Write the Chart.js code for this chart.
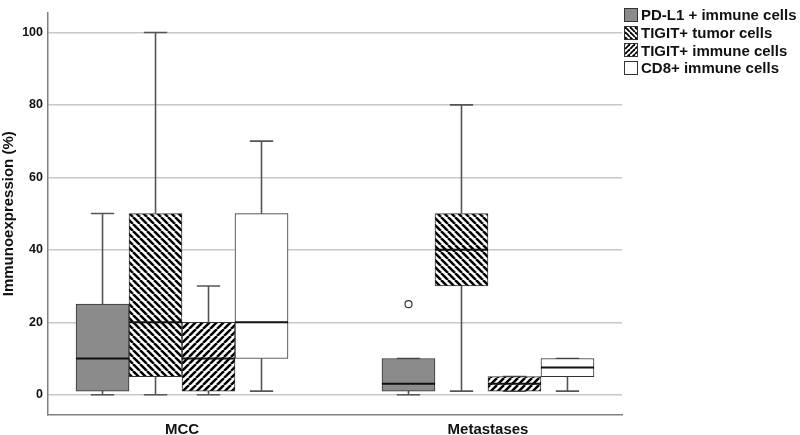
<!DOCTYPE html>
<html>
<head>
<meta charset="utf-8">
<script src="https://cdn.jsdelivr.net/npm/chart.js@4.4.1/dist/chart.umd.min.js"></script>
<style>
  body { margin: 0; background: #fff; }
  .chart-wrap { position: relative; width: 800px; height: 435px; }
  .chart-legend { position: absolute; left: 624px; top: 6px; font: bold 15px 'Liberation Sans', Arial, sans-serif; color: #111; }
  .legend-item { display: flex; align-items: center; height: 17.7px; white-space: nowrap; }
  .legend-item canvas { width: 14px; height: 14px; margin-right: 3px; box-sizing: border-box; border: 1px solid #333; }
</style>
</head>
<body>
<div class="chart-wrap">
  <canvas id="chart"></canvas>
  <div class="chart-legend" id="legend"></div>
</div>
<script>
const categories = ['MCC', 'Metastases'];
const seriesNames = ['PD-L1 + immune cells', 'TIGIT+ tumor cells', 'TIGIT+ immune cells', 'CD8+ immune cells'];
// [min, q1, median, q3, max] for MCC, Metastases
const pdl1Stats = [[0, 1, 10, 25, 50], [0, 1, 3, 10, 10]];
const tigitTumorStats = [[0, 5, 20, 50, 100], [1, 30, 40, 50, 80]];
const tigitImmuneStats = [[0, 1, 10, 20, 30], [1, 1, 3, 5, 5]];
const cd8Stats = [[1, 10, 20, 50, 70], [1, 5, 7.5, 10, 10]];
const pdl1Outliers = [[], [25]];
const yTicks = [0, 20, 40, 60, 80, 100];

const allStats = [pdl1Stats, tigitTumorStats, tigitImmuneStats, cd8Stats];
const BOX = 0.1732;          // box width in category units
const GRID = '#c8c8c8';
const AXIS = '#808080';
const FONT = "'Liberation Sans', Arial, sans-serif";

function makePattern(kind, p, lw) {
  const c = document.createElement('canvas');
  c.width = p; c.height = p;
  const g = c.getContext('2d');
  g.fillStyle = '#fff'; g.fillRect(0, 0, p, p);
  g.strokeStyle = '#000'; g.lineWidth = lw;
  for (let k = -1; k <= 1; k++) {
    g.beginPath();
    if (kind === 'back') { g.moveTo(k * p, 0); g.lineTo(k * p + p, p); }
    else { g.moveTo(k * p, p); g.lineTo(k * p + p, 0); }
    g.stroke();
  }
  return c;
}

function fillFor(s, ctx, p = 7, lw = 2.5) {
  if (s === 0) return '#8c8b8c';
  if (s === 1) return ctx.createPattern(makePattern('back', p, lw), 'repeat');
  if (s === 2) return ctx.createPattern(makePattern('fwd', p, lw), 'repeat');
  return '#ffffff';
}

const xOf = (i, s) => i + (s - 1.5) * BOX;

const boxPlugin = {
  id: 'boxparts',
  beforeDatasetsDraw(chart) {
    const { ctx, scales: { y } } = chart;
    ctx.save();
    ctx.strokeStyle = '#555'; ctx.lineWidth = 1.6;
    allStats.forEach((stats, s) => {
      chart.getDatasetMeta(s).data.forEach((el, i) => {
        const [mn, q1, , q3, mx] = stats[i];
        const cap = el.width * 0.22;
        ctx.beginPath();
        ctx.moveTo(el.x, y.getPixelForValue(q3)); ctx.lineTo(el.x, y.getPixelForValue(mx));
        ctx.moveTo(el.x, y.getPixelForValue(q1)); ctx.lineTo(el.x, y.getPixelForValue(mn));
        ctx.moveTo(el.x - cap, y.getPixelForValue(mx)); ctx.lineTo(el.x + cap, y.getPixelForValue(mx));
        ctx.moveTo(el.x - cap, y.getPixelForValue(mn)); ctx.lineTo(el.x + cap, y.getPixelForValue(mn));
        ctx.stroke();
      });
    });
    ctx.restore();
  },
  afterDatasetsDraw(chart) {
    const { ctx, scales: { y } } = chart;
    ctx.save();
    ctx.strokeStyle = '#111'; ctx.lineWidth = 2;
    allStats.forEach((stats, s) => {
      chart.getDatasetMeta(s).data.forEach((el, i) => {
        const py = y.getPixelForValue(stats[i][2]);
        ctx.beginPath();
        ctx.moveTo(el.x - el.width / 2, py); ctx.lineTo(el.x + el.width / 2, py);
        ctx.stroke();
      });
    });
    ctx.restore();
  }
};

const canvas = document.getElementById('chart');
const c2d = canvas.getContext('2d');

const datasets = allStats.map((stats, s) => ({
  type: 'bar',
  label: seriesNames[s],
  data: categories.map((c, i) => ({ x: xOf(i, s), y: [stats[i][1], stats[i][3]] })),
  backgroundColor: fillFor(s, c2d),
  borderColor: '#333',
  borderWidth: 1,
  borderSkipped: false,
  barThickness: 53,
  grouped: false
}));

datasets.push({
  type: 'scatter',
  label: 'outliers',
  data: categories.flatMap((c, i) => pdl1Outliers[i].map(v => ({ x: xOf(i, 0), y: v }))),
  pointRadius: 3.5,
  pointBackgroundColor: '#fff',
  pointBorderColor: '#333',
  pointBorderWidth: 1.2
});

new Chart(canvas, {
  type: 'bar',
  data: { datasets },
  plugins: [boxPlugin],
  options: {
    responsive: true, maintainAspectRatio: false, animation: false,
    layout: { padding: { top: 5, right: 178, left: 0, bottom: 0 } },
    plugins: { legend: { display: false }, tooltip: { enabled: false } },
    scales: {
      x: {
        type: 'linear', min: -0.438, max: 1.438, offset: false,
        afterBuildTicks: sc => { sc.ticks = categories.map((c, i) => ({ value: i })); },
        afterFit: sc => { sc.height = 20; },
        grid: { display: false, offset: false },
        border: { display: true, color: AXIS, width: 1.5 },
        ticks: { color: '#111', padding: -2, maxRotation: 0, font: { family: FONT, size: 15, weight: 'bold' }, callback: v => categories[v] }
      },
      y: {
        min: -5.6, max: 105.5,
        afterBuildTicks: sc => { sc.ticks = yTicks.map(v => ({ value: v })); },
        afterFit: sc => { sc.width = 48; },
        grid: { color: GRID, lineWidth: 1.5, drawTicks: false },
        border: { display: true, color: AXIS, width: 1.5 },
        title: { display: true, text: 'Immunoexpression (%)', color: '#111', padding: 0, font: { family: FONT, size: 15, weight: 'bold' } },
        ticks: { color: '#111', padding: 5, font: { family: FONT, size: 12.5, weight: 'bold' } }
      }
    }
  }
});

const legend = document.getElementById('legend');
seriesNames.forEach((name, s) => {
  const row = document.createElement('div');
  row.className = 'legend-item';
  const sw = document.createElement('canvas');
  sw.width = 12; sw.height = 12;
  const g = sw.getContext('2d');
  g.fillStyle = fillFor(s, g, 5, 1.8);
  g.fillRect(0, 0, 12, 12);
  row.appendChild(sw);
  row.appendChild(document.createTextNode(name));
  legend.appendChild(row);
});
</script>
</body>
</html>
